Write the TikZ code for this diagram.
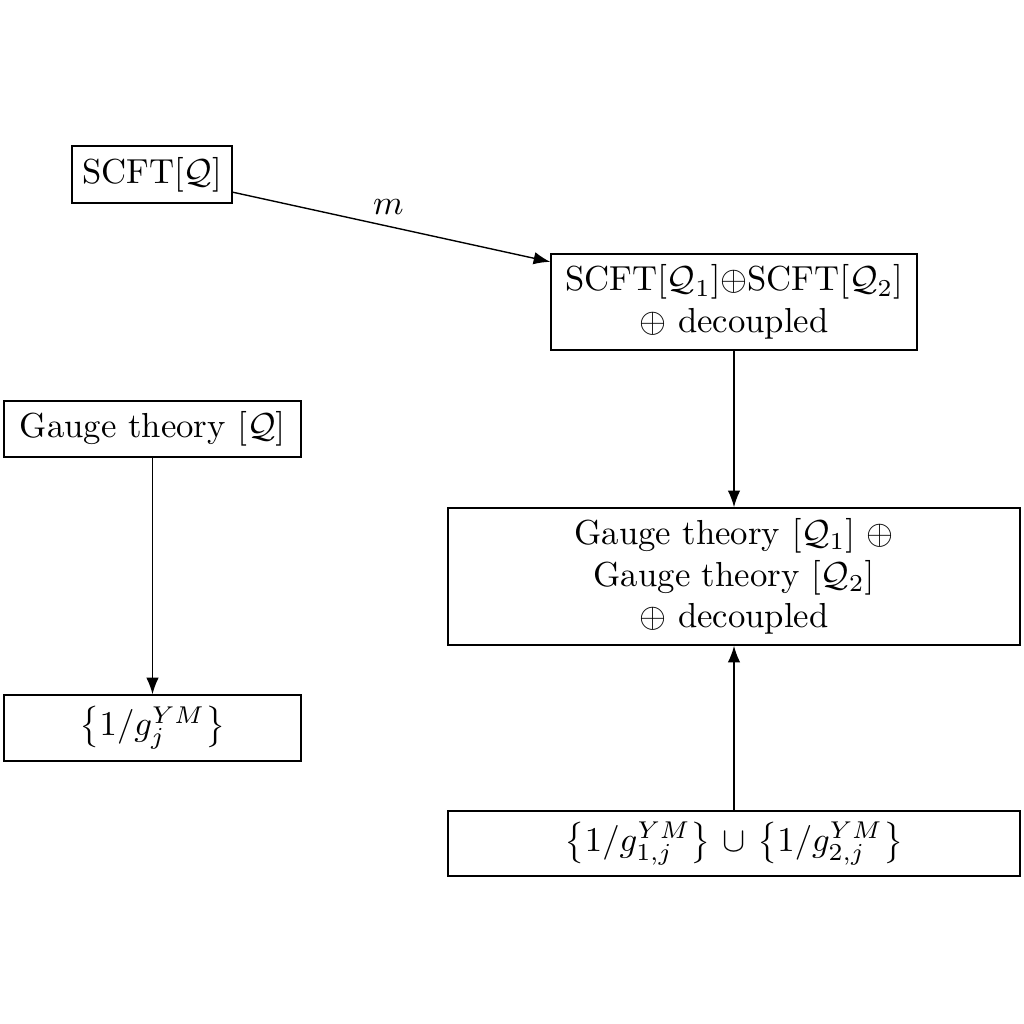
\documentclass[tikz,border=0pt]{standalone}
\usepackage{amsmath}
\usetikzlibrary{arrows.meta}
\begin{document}
\begin{tikzpicture}[x=0.288pt,y=-0.288pt,
  box/.style={draw,align=center,inner sep=0pt,line width=0.4pt},
  conn/.style={-{Latex},line width=0.4pt}]
\useasboundingbox (0,0) rectangle (1024,1024);
\node[box,minimum width=46.1pt,minimum height=16.4pt] (A) at (152,174.5) {SCFT$[\mathcal{Q}]$};
\node[box,minimum width=105.4pt,minimum height=27.6pt] (B) at (734,302) {SCFT$[\mathcal{Q}_1]\oplus$SCFT$[\mathcal{Q}_2]$\\$\oplus$ decoupled};
\node[box,minimum width=85.5pt,minimum height=16.1pt] (C) at (152.5,429) {Gauge theory $[\mathcal{Q}]$};
\node[box,minimum width=85.5pt,minimum height=19.0pt] (D) at (152.5,728) {$\left\{1/g^{YM}_j\right\}$};
\node[box,minimum width=164.7pt,minimum height=39.5pt] (E) at (734,576.5) {Gauge theory $[\mathcal{Q}_1]$ $\oplus$\\Gauge theory $[\mathcal{Q}_2]$\\$\oplus$ decoupled};
\node[box,minimum width=164.7pt,minimum height=18.7pt] (F) at (734,843.5) {$\left\{1/g^{YM}_{1,j}\right\}$ $\cup$ $\left\{1/g^{YM}_{2,j}\right\}$};
\draw[conn] (A) -- node[above,pos=0.49] (m) {$m$} (B);
\draw[conn] (B) -- (E);
\draw[conn] (C) -- (D);
\draw[conn] (F) -- (E);
\end{tikzpicture}
\end{document}
